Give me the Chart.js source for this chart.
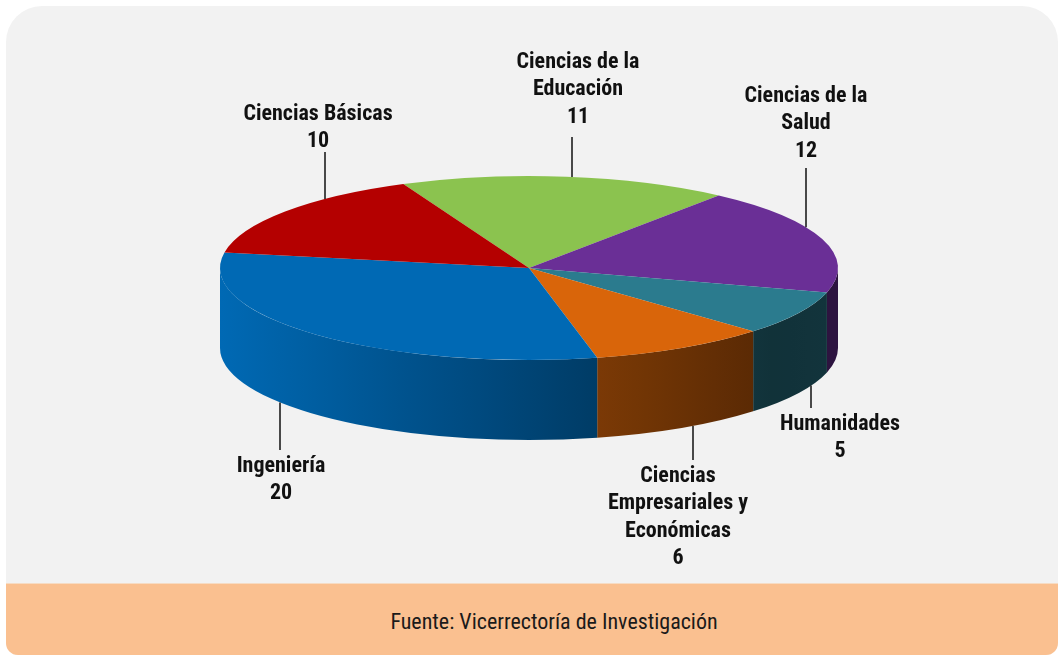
<!DOCTYPE html>
<html lang="es">
<head>
<meta charset="utf-8">
<script src="https://cdn.jsdelivr.net/npm/chart.js@4.4.1/dist/chart.umd.min.js"></script>
<style>
  html, body { margin: 0; padding: 0; background: #fff; }
  #panel {
    position: absolute; left: 6px; top: 6px; width: 1052px; height: 649px;
    background: #f2f2f2; border-radius: 36px 36px 12px 12px; overflow: hidden;
  }
  #source {
    position: absolute; left: 0; right: 0; bottom: 0; height: 72px;
    background: #fac090; border-top: 1px solid #f6dcc4;
    font: 22px "Liberation Sans Narrow", "Roboto Condensed", "DejaVu Sans Condensed", sans-serif;
    color: #1a1a1a; text-align: center; line-height: 76px; padding-left: 44px; box-sizing: border-box;
  }
  #chart { position: absolute; left: 0; top: 0; }
</style>
</head>
<body>
<div id="panel"><div id="source">Fuente: Vicerrectoría de Investigación</div></div>
<canvas id="chart" width="1061" height="656"></canvas>
<script>
// Data, clockwise from the top
const categories = [
  ['Ciencias de la', 'Educación'],
  ['Ciencias de la', 'Salud'],
  ['Humanidades'],
  ['Ciencias', 'Empresariales y', 'Económicas'],
  ['Ingeniería'],
  ['Ciencias Básicas']
];
const counts = [11, 12, 5, 6, 20, 10];
const sliceColors = ['#8bc34f', '#6a2f96', '#2b7b8e', '#d9650a', '#0069b4', '#b40000'];

// Look of the tilted pie
const CX = 529, CY = 268;   // centre of the top face
const RY = 92;              // vertical radius of the top face
const DEPTH = 80;           // height of the side wall
const LABEL_FONT = 'bold 22px "Liberation Sans Narrow", "Roboto Condensed", "DejaVu Sans Condensed", sans-serif';

// Label placement: text centre, first line y, leader x, leader end next to the text
const labelSpots = [
  { x: 578, y: 62, lineX: 572, lineY: 137, side: 'top' },
  { x: 806, y: 96, lineX: 806, lineY: 168, side: 'top' },
  { x: 840, y: 424, lineX: 811, lineY: 408, side: 'bottom' },
  { x: 678, y: 476, lineX: 693, lineY: 460, side: 'bottom' },
  { x: 281, y: 466, lineX: 280, lineY: 450, side: 'bottom' },
  { x: 318, y: 114, lineX: 325, lineY: 152, side: 'top' }
];

/**
 * Mix a hex colour with black
 */
function shade(hex, f) {
  const n = parseInt(hex.slice(1), 16);
  const r = Math.round(((n >> 16) & 255) * f);
  const g = Math.round(((n >> 8) & 255) * f);
  const b = Math.round((n & 255) * f);
  return 'rgb(' + r + ',' + g + ',' + b + ')';
}

// brightness of the side wall along x
function lightAt(x) {
  const pts = [[220, 1.0], [595, 0.57], [775, 0.40], [845, 0.43]];
  if (x <= pts[0][0]) return pts[0][1];
  for (let i = 1; i < pts.length; i++) {
    if (x <= pts[i][0]) {
      const t = (x - pts[i - 1][0]) / (pts[i][0] - pts[i - 1][0]);
      return pts[i - 1][1] + t * (pts[i][1] - pts[i - 1][1]);
    }
  }
  return pts[pts.length - 1][1];
}

/**
 * Plugin: squash the pie into an ellipse and give it a side wall
 */
const pie3d = {
  id: 'pie3d',
  beforeDatasetsDraw(chart) {
    const ctx = chart.ctx;
    const arcs = chart.getDatasetMeta(0).data;
    const RX = arcs[0].outerRadius;

    // side walls of the front half
    arcs.forEach((arc, i) => {
      for (let k = -1; k <= 1; k++) {
        const lo = Math.max(arc.startAngle, 2 * Math.PI * k);
        const hi = Math.min(arc.endAngle, 2 * Math.PI * k + Math.PI);
        if (hi <= lo) continue;
        const xa = CX + RX * Math.cos(lo);
        const xb = CX + RX * Math.cos(hi);
        const left = Math.min(xa, xb), right = Math.max(xa, xb);
        const grad = ctx.createLinearGradient(left, 0, right + 0.01, 0);
        for (let s = 0; s <= 4; s++) {
          const x = left + (right - left) * s / 4;
          grad.addColorStop(s / 4, shade(sliceColors[i], lightAt(x)));
        }
        ctx.beginPath();
        ctx.ellipse(CX, CY, RX, RY, 0, lo, hi);
        ctx.lineTo(xb, CY + DEPTH + RY * Math.sin(hi));
        ctx.ellipse(CX, CY + DEPTH, RX, RY, 0, hi, lo, true);
        ctx.closePath();
        ctx.fillStyle = grad;
        ctx.fill();
      }
    });

    // top face
    ctx.save();
    ctx.translate(CX, CY);
    ctx.scale(1, RY / RX);
    ctx.translate(-arcs[0].x, -arcs[0].y);
  },
  afterDatasetsDraw(chart) {
    const ctx = chart.ctx;
    ctx.restore();

    const RX = chart.getDatasetMeta(0).data[0].outerRadius;
    const rimOffset = x => {
      const u = (x - CX) / RX;
      return RY * Math.sqrt(Math.max(0, 1 - u * u));
    };

    ctx.save();
    ctx.font = LABEL_FONT;
    ctx.fillStyle = '#111';
    ctx.strokeStyle = '#111';
    ctx.lineWidth = 1.5;
    ctx.textAlign = 'center';
    ctx.textBaseline = 'middle';
    chart.data.labels.forEach((label, i) => {
      const spot = labelSpots[i];
      const lines = [].concat(label, String(chart.data.datasets[0].data[i]));
      lines.forEach((t, j) => ctx.fillText(t, spot.x, spot.y + j * 27.5));
      const rimY = spot.side === 'top'
        ? CY - rimOffset(spot.lineX)
        : CY + DEPTH + rimOffset(spot.lineX);
      ctx.beginPath();
      ctx.moveTo(spot.lineX, spot.lineY);
      ctx.lineTo(spot.lineX, rimY);
      ctx.stroke();
    });
    ctx.restore();
  }
};

new Chart(document.getElementById('chart'), {
  type: 'pie',
  data: {
    labels: categories,
    datasets: [{
      data: counts,
      backgroundColor: sliceColors,
      borderWidth: 0,
      clip: false
    }]
  },
  options: {
    responsive: false,
    devicePixelRatio: 1,
    animation: false,
    rotation: -24,
    layout: { padding: { top: 19, bottom: 19 } },
    plugins: {
      legend: { display: false },
      tooltip: { enabled: false }
    }
  },
  plugins: [pie3d]
});
</script>
</body>
</html>
